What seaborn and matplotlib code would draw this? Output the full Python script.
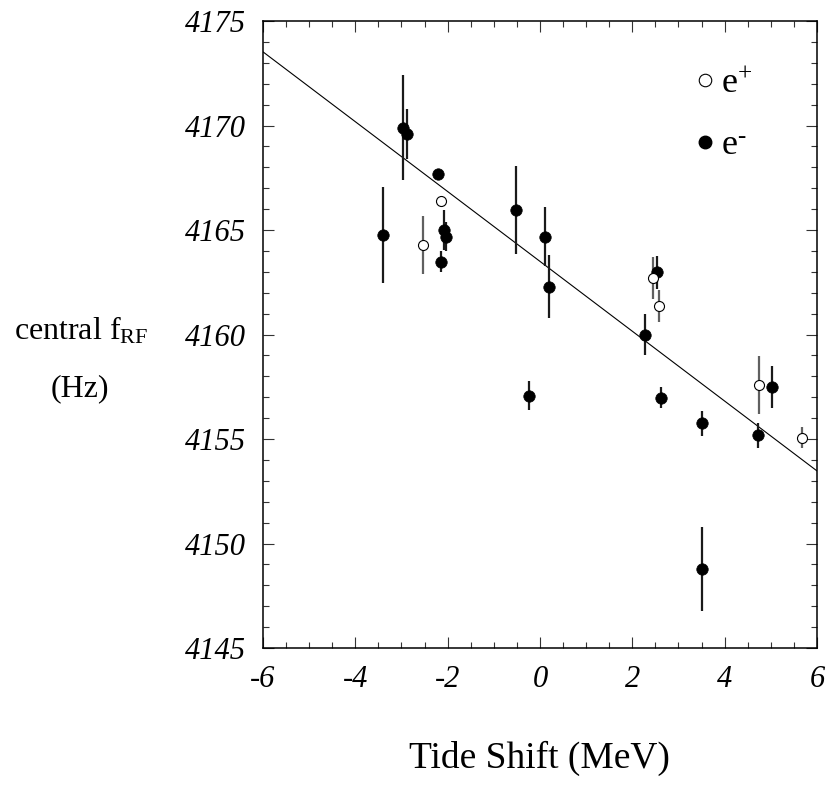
import numpy as np
import pandas as pd
import matplotlib
matplotlib.use("Agg")
import matplotlib.pyplot as plt
from matplotlib.lines import Line2D
from matplotlib.ticker import MultipleLocator
import seaborn as sns

# Tide shift (MeV), central RF frequency (Hz) and its uncertainty
pos_shift = [-2.54, -2.14, 2.45, 2.58, 4.74, 5.67]
pos_freq = [4164.28, 4166.40, 4162.69, 4161.38, 4157.59, 4155.06]
pos_err = [1.4, 0.2, 1.0, 0.77, 1.4, 0.5]

ele_shift = [-3.39, -2.96, -2.87, -2.20, -2.08, -2.04, -2.14, -0.52, 0.11,
             0.20, 2.53, 2.27, -0.23, 2.62, 3.51, 5.02, 4.72, 3.51]
ele_freq = [4164.78, 4169.90, 4169.58, 4167.68, 4165.00, 4164.68, 4163.49,
            4165.97, 4164.68, 4162.29, 4162.97, 4160.00, 4157.08, 4156.97,
            4155.76, 4157.48, 4155.19, 4148.77]
ele_err = [2.3, 2.5, 1.2, 0.25, 0.96, 0.7, 0.5, 2.1, 1.4,
           1.5, 0.8, 1.0, 0.7, 0.5, 0.6, 1.0, 0.6, 2.0]

# Linear fit: f = intercept + slope * shift
fit_intercept = 4163.50
fit_slope = -1.671
fit_x = [-6.0, 6.0]

x_ticks = [-6, -4, -2, 0, 2, 4, 6]
y_ticks = [4145, 4150, 4155, 4160, 4165, 4170, 4175]

sns.set_theme(style="white")
plt.rcParams["font.family"] = ["Liberation Serif", "DejaVu Serif"]
plt.rcParams["mathtext.fontset"] = "custom"
plt.rcParams["mathtext.rm"] = "Liberation Serif"
plt.rcParams["mathtext.it"] = "Liberation Serif:italic"
plt.rcParams["axes.unicode_minus"] = False
plt.rcParams["text.color"] = "black"
plt.rcParams["xtick.color"] = "black"
plt.rcParams["ytick.color"] = "black"

pos = pd.DataFrame({"shift": pos_shift, "freq": pos_freq, "err": pos_err})
ele = pd.DataFrame({"shift": ele_shift, "freq": ele_freq, "err": ele_err})
fit = pd.DataFrame({"shift": fit_x,
                    "freq": [fit_intercept + fit_slope * v for v in fit_x]})

fig = plt.figure(figsize=(8.28, 7.85), dpi=100)
ax = fig.add_axes([0.3176, 0.1745, 0.6691, 0.7987])

# fit line
sns.lineplot(data=fit, x="shift", y="freq", ax=ax, color="black",
             linewidth=0.8, legend=False)

# error bars
ax.errorbar(ele["shift"], ele["freq"], yerr=ele["err"], fmt="none",
            ecolor="#1a1a1a", elinewidth=1.6, capsize=0, zorder=2)
ax.errorbar(pos["shift"], pos["freq"], yerr=pos["err"], fmt="none",
            ecolor="#606060", elinewidth=1.6, capsize=0, zorder=2)

# points
sns.scatterplot(data=ele, x="shift", y="freq", ax=ax, color="black",
                s=68, edgecolor="black", linewidth=0.5, zorder=3, legend=False)
sns.scatterplot(data=pos, x="shift", y="freq", ax=ax, color="white",
                s=52, edgecolor="black", linewidth=0.8, zorder=3, legend=False)

ax.set_xlim(-6, 6)
ax.set_ylim(4145, 4175)
ax.set_xticks(x_ticks)
ax.set_yticks(y_ticks)
ax.set_xticklabels([str(v) for v in x_ticks])
ax.set_yticklabels([str(v) for v in y_ticks])
ax.xaxis.set_minor_locator(MultipleLocator(0.5))
ax.yaxis.set_minor_locator(MultipleLocator(1))
ax.tick_params(which="both", direction="in", top=True, right=True,
               bottom=True, left=True, color="#333333", width=0.8,
               labelcolor="black")
ax.tick_params(which="major", length=8, labelsize=22, pad=12)
ax.tick_params(which="minor", length=4.3)
ax.tick_params(axis="y", which="major", pad=12)
for lab in ax.get_xticklabels() + ax.get_yticklabels():
    lab.set_fontstyle("italic")
for sp in ax.spines.values():
    sp.set_color("black")
    sp.set_linewidth(1.1)
ax.set_xlabel("")
ax.set_ylabel("")

handles = [
    Line2D([], [], linestyle="none", marker="o", markersize=9,
           markerfacecolor="white", markeredgecolor="black",
           markeredgewidth=0.8),
    Line2D([], [], linestyle="none", marker="o", markersize=9,
           markerfacecolor="black", markeredgecolor="black"),
]
ax.legend(handles, [r"e$^{+}$", r"e$^{\text{-}}$"], loc="upper left",
          bbox_to_anchor=(0.72, 0.978), frameon=False, fontsize=26,
          handlelength=0.6, handletextpad=0.15, labelspacing=0.8)

fig.text(81 / 828, 1 - 331 / 785, r"central f$_{\mathrm{RF}}$",
         ha="center", va="center", fontsize=23)
fig.text(80 / 828, 1 - 389 / 785, "(Hz)", ha="center", va="center",
         fontsize=23)
fig.text(539 / 828, 1 - 758 / 785, "Tide Shift (MeV)", ha="center",
         va="center", fontsize=27)

fig.savefig("out.png", dpi=100)
